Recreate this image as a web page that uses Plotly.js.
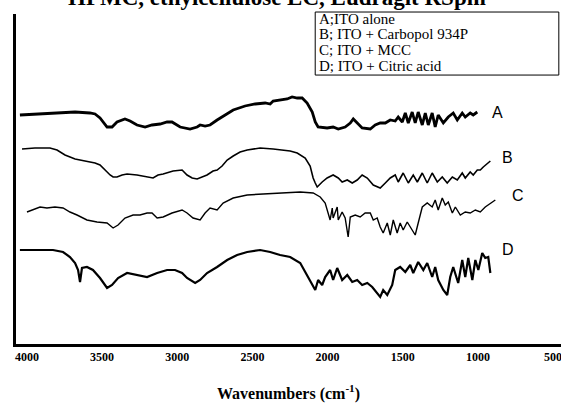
<!DOCTYPE html>
<html><head><meta charset="utf-8">
<script src="https://cdn.plot.ly/plotly-3.0.1.min.js"></script>
<style>html,body{margin:0;padding:0;background:#fff}#chart{width:561px;height:405px}</style>
</head><body><div id="chart"></div>
<script>
// Spectrum A: ITO alone
const wnA = [4047,3947,3814,3680,3581,3547,3514,3481,3467,3434,3401,3348,3314,3268,3214,3168,3114,3068,3035,2981,2915,2868,2848,2815,2782,2735,2682,2628,2549,2482,2415,2382,2362,2316,2269,2236,2202,2169,2136,2102,2082,2063,2003,1963,1929,1883,1849,1829,1803,1770,1716,1683,1650,1616,1583,1550,1530,1503,1483,1463,1437,1417,1397,1370,1350,1330,1304,1284,1264,1230,1197,1164,1137,1104,1084,1051,1031,1004];
const tA  = [229,230,231,232,231,230,226,219,217,217,222,225,223,219,217,219,220,222,222,217,215,217,219,218,219,224,229,234,238,240,241,240,243,244,245,247,246,246,241,232,222,217,216,217,215,217,221,225,221,216,215,219,221,221,224,223,227,222,231,221,232,221,232,219,231,219,231,217,229,221,227,231,224,231,227,231,229,232];
// Spectrum B: ITO + Carbopol 934P
const wnB = [4033,3947,3847,3800,3747,3680,3614,3547,3514,3481,3447,3427,3401,3367,3334,3268,3201,3161,3128,3094,3028,2968,2935,2901,2868,2835,2802,2762,2735,2702,2668,2628,2582,2535,2449,2362,2316,2249,2202,2149,2116,2096,2082,2069,2036,2003,1963,1929,1903,1869,1836,1803,1770,1736,1696,1650,1616,1583,1550,1530,1497,1463,1430,1403,1370,1337,1304,1270,1237,1204,1170,1137,1104,1084,1051,1031,1004,984,964,937,917];
const tB  = [195,196,196,194,189,185,183,181,179,174,169,167,167,169,170,169,167,166,169,170,173,174,169,166,165,167,169,173,174,178,184,188,192,194,196,195,194,193,191,186,178,166,161,157,162,166,169,166,162,164,161,164,169,166,159,156,161,166,169,162,171,161,169,162,171,161,171,162,167,161,167,164,171,166,172,169,174,174,177,181,183];
// Spectrum C: ITO + MCC
const wnC = [4000,3960,3913,3867,3814,3760,3714,3667,3601,3534,3467,3427,3394,3348,3294,3248,3201,3168,3134,3094,3035,2968,2935,2895,2848,2815,2782,2735,2695,2628,2535,2429,2316,2182,2096,2049,2016,1996,1983,1969,1963,1936,1929,1903,1883,1863,1849,1816,1783,1750,1716,1696,1670,1650,1630,1603,1583,1563,1537,1517,1497,1470,1437,1417,1397,1370,1337,1304,1284,1264,1237,1217,1197,1170,1150,1117,1084,1051,1017,984,951,917,884];
const tC  = [132,134,137,136,137,136,132,129,124,122,121,116,119,126,129,129,131,131,126,127,131,134,131,126,124,131,136,134,141,146,149,150,151,152,151,147,141,132,124,136,126,137,124,132,126,107,127,129,127,131,131,124,126,117,111,121,109,124,111,121,114,122,114,109,121,137,141,137,144,134,146,139,142,131,137,129,132,131,134,132,137,141,144];
// Spectrum D: ITO + Citric acid
const wnD = [4047,3960,3893,3827,3760,3714,3680,3660,3647,3634,3601,3561,3514,3467,3434,3394,3334,3268,3201,3134,3068,3015,2968,2935,2881,2848,2802,2735,2668,2602,2535,2449,2382,2316,2249,2182,2136,2102,2082,2063,2036,2016,1983,1963,1936,1903,1869,1836,1803,1770,1736,1703,1670,1650,1630,1603,1570,1550,1517,1483,1450,1430,1397,1363,1337,1304,1284,1264,1230,1204,1184,1164,1131,1104,1084,1064,1037,1017,997,971,951,931,917];
const tD  = [94,94,94,94,92,87,81,74,62,76,77,74,66,56,59,66,71,69,67,71,74,74,71,66,61,64,71,77,84,89,92,94,92,89,87,81,69,59,54,64,59,67,74,64,76,64,69,62,64,59,61,57,51,47,54,49,59,74,77,72,79,71,82,74,81,67,77,64,54,49,67,77,61,84,67,86,64,84,74,91,86,87,71];

const tickVals = [4000,3500,3000,2500,2000,1500,1000,500];
const legendLines = ["A;ITO alone","B; ITO + Carbopol 934P","C; ITO + MCC","D; ITO + Citric acid"];
const curveLabels = ["A","B","C","D"];
const labelPos = [[871,232],[804,187],[731,149],[797,95]];

const serif = "Liberation Serif, Times New Roman, serif";
const sans = "Liberation Sans, Arial, sans-serif";

function tr(x,y,w){return {x:x,y:y,type:'scatter',mode:'lines',line:{color:'#000',width:w},hoverinfo:'skip',showlegend:false};}
const data = [tr(wnA,tA,2.8),tr(wnB,tB,1.6),tr(wnC,tC,1.4),tr(wnD,tD,2.2)];

const ann = [];
const legY = [0.985,0.939,0.891,0.843];
legendLines.forEach((t,i)=>{
  ann.push({xref:'paper',yref:'paper',x:0.552,y:legY[i],xanchor:'left',yanchor:'middle',text:t,showarrow:false,font:{family:serif,size:15,color:'#000'}});
});
curveLabels.forEach((t,i)=>{
  ann.push({xref:'x',yref:'y',x:labelPos[i][0],y:labelPos[i][1],xanchor:'center',yanchor:'middle',text:t,showarrow:false,font:{family:sans,size:16,color:'#000'}});
});
ann.push({xref:'paper',yref:'paper',x:0.479,y:1.049,xanchor:'center',yanchor:'middle',text:'HPMC, ethylcellulose EC, Eudragit RSpm',showarrow:false,font:{family:serif,size:23,color:'#000',weight:'bold'}});

const layout = {
  width:561,height:405,
  margin:{l:16,r:0,t:14,b:61},
  paper_bgcolor:'#fff',plot_bgcolor:'#fff',
  xaxis:{range:[4073,447],tickvals:tickVals,ticks:'',showline:true,linecolor:'#000',linewidth:3,showgrid:false,zeroline:false,
    ticklabeloverflow:'allow',
    tickfont:{family:serif,size:12,color:'#000',weight:'bold'},
    title:{text:'Wavenumbers (cm<sup>-1</sup>)',font:{family:serif,size:16,color:'#000',weight:'bold'},standoff:25}},
  yaxis:{range:[0,330],showticklabels:false,ticks:'',showline:true,linecolor:'#000',linewidth:3,showgrid:false,zeroline:false},
  shapes:[{type:'rect',xref:'paper',yref:'paper',x0:0.549,x1:0.996,y0:0.815,y1:1.006,line:{color:'#000',width:1},fillcolor:'rgba(0,0,0,0)'}],
  annotations:ann
};
Plotly.newPlot('chart',data,layout,{staticPlot:true});
</script></body></html>
